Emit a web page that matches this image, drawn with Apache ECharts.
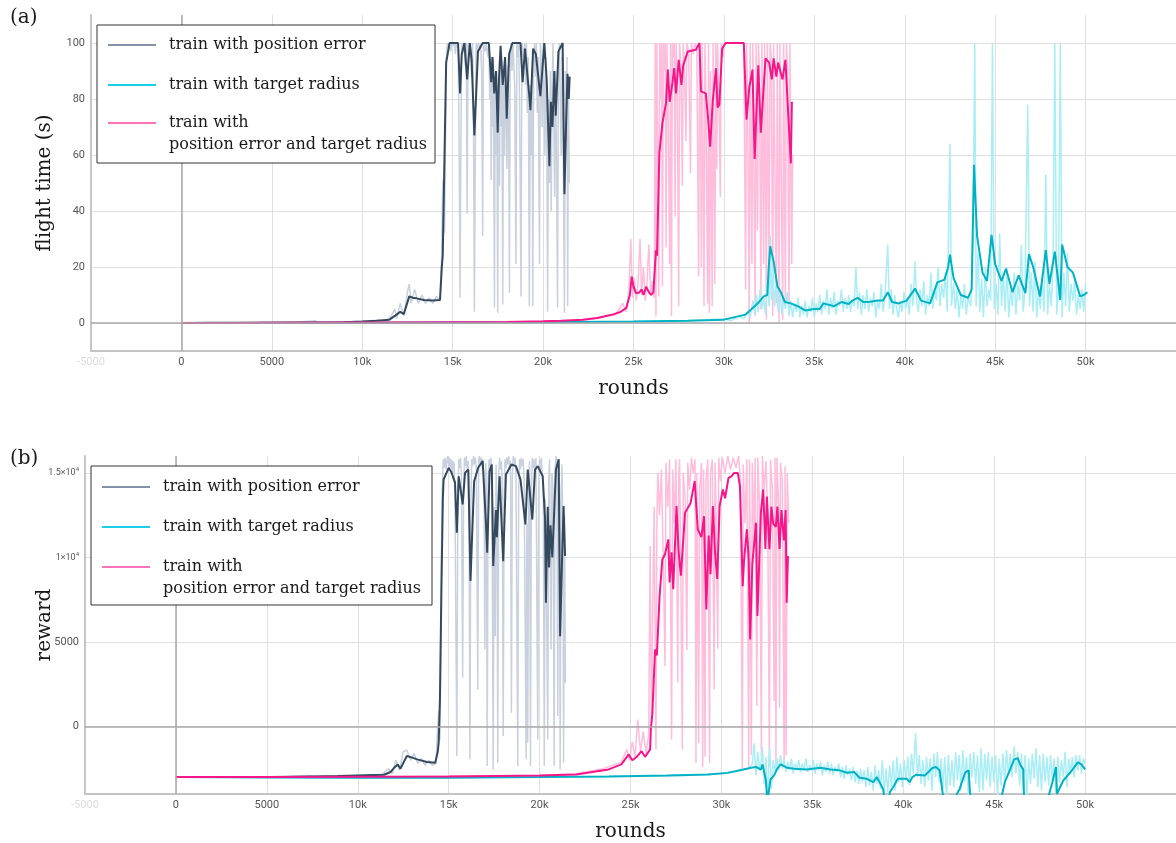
<!DOCTYPE html>
<html>
<head>
<meta charset="utf-8">
<title>flight time and reward</title>
<script src="https://cdn.jsdelivr.net/npm/echarts@6/dist/echarts.min.js"></script>
<style>
  html, body { margin: 0; padding: 0; background: #fff; }
  #chart { width: 1176px; height: 843px; }
</style>
</head>
<body>
<div id="chart"></div>
<script>
// x = training rounds
const flightTicks = [0, 20, 40, 60, 80, 100]
const rewardTicks = [0, 5000, 10000, 15000]
const legendNames = ['train with position error', 'train with target radius', 'train with\nposition error and target radius']

// (a) flight time (s)
const flightPosRaw = [[0,0],[1500,0.2],[3000,0],[4500,0.3],[6000,0.1],[7400,0.8],[7600,0.1],[9000,0.4],[10000,0.6],[10800,1],[11300,0.8],[11600,2.5],[11800,5],[11900,1.5],[12100,7],[12300,2.5],[12500,11],[12600,14],[12700,7],[12900,12],[13100,7],[13300,10],[13500,7],[13700,9],[13900,7],[14100,9.5],[14300,8],[14400,26],[14450,51],[14550,32],
  [14650,95],[14700,100],[14750,98],[14800,100],[14850,100],[14900,97],[14950,100],[15000,100],[15050,99],[15100,100],[15150,96],[15200,100],[15250,100],[15300,98],[15350,70],[15410,9],[15450,60],[15500,100],[15550,97],[15600,100],[15650,100],[15700,92],[15750,100],[15800,39],[15850,100],[15900,96],[15950,100],[16000,100],[16050,88],[16100,100],[16150,75],[16200,4],[16250,60],[16300,100],[16350,95],[16400,100],[16450,100],[16500,98],[16550,100],[16600,90],[16660,31],[16700,100],[16750,100],[16800,97],[16850,100],[16900,100],[16950,95],[17000,100],[17050,80],[17100,95],[17130,51],[17170,90],[17210,70],[17250,95],[17310,5.5],[17350,88],[17400,60],[17440,85],[17490,3.7],[17530,80],[17590,49],[17630,95],[17680,70],[17720,90],[17770,6.6],[17810,85],[17860,60],[17900,95],[17950,75],[18000,55],[18050,92],[18100,70],[18140,10.8],[18180,95],[18230,100],[18280,90],[18330,100],[18380,100],[18430,85],[18500,21],[18550,100],[18600,95],[18650,100],[18700,80],[18780,9.5],[18830,100],[18880,100],[18930,95],[18980,100],[19030,85],[19080,100],[19130,75],[19180,95],[19240,6],[19290,85],[19340,60],[19390,90],[19430,6],[19480,95],[19530,100],[19580,88],[19630,100],[19680,75],[19730,95],[19800,21],[19850,100],[19900,92],[19950,70],[20000,100],[20050,85],[20100,60],[20150,95],[20200,75],[20250,4],[20300,80],[20350,50],[20400,90],[20450,40],[20500,85],[20550,100],[20600,70],[20640,45],[20690,90],[20740,60],[20800,5.5],[20850,95],[20900,100],[20950,80],[21000,60],[21050,95],[21100,75],[21180,3.7],[21230,90],[21280,65],[21320,95],[21360,6],[21400,85],[21450,50]]
const flightPosSmooth = [[0,0],[2000,0.1],[4000,0.1],[6000,0.2],[8000,0.2],[9000,0.3],[10000,0.5],[10800,0.8],[11500,1.2],[11900,3],[12100,4],[12300,3.2],[12600,9.5],[12800,9],[13000,8.8],[13400,8.2],[13900,8],[14300,8.2],[14400,20],[14450,24],[14550,60],[14640,93],[14830,100],[15300,100],[15410,82],[15500,96],[15650,100],[15800,87],[15950,100],[16050,94],[16200,67],[16400,97],[16660,100],[17000,100],[17130,86],[17200,95],[17300,82],[17400,90],[17490,68],[17560,87],[17650,99],[17770,85],[17900,95],[17990,73],[18120,96],[18300,100],[18750,100],[18870,86],[19000,98],[19240,81],[19300,76],[19450,98],[19600,96],[19850,81],[20070,100],[20200,87],[20350,56],[20430,79],[20520,70],[20620,90],[20700,74],[20850,97],[21080,100],[21180,46],[21280,73],[21350,89],[21420,80],[21470,88]]
const flightRadRaw = [[0,0],[10000,0.1],[20000,0.3],[25000,0.5],[28000,0.8],[30000,1.5],[30400,0.8],[30800,2.5],[31100,1.5],[31300,4],[31450,2],[31600,8],[31700,3],[31800,10],[31900,4],[32000,12],[32100,5],[32200,9],[32300,3],[32400,15],[32500,6],[32560,31],[32620,8],[32700,20],[32800,6],[32900,16],[33000,4],[33100,12],[33200,3],[33300,9],[33400,5],[33500,11],[33600,3],[33700,8],[33800,2],[33900,7],[34000,4],[34100,9],[34200,2],[34300,6],[34400,3],[34500,8],[34600,2],[34700,6],[34800,4],[34900,9],[35000,2],[35100,7],[35200,4],[35300,10],[35400,3],[35500,8],[35600,5],[35700,12],[35800,3],[35900,9],[36000,5],[36100,11],[36200,3],[36300,8],[36400,6],[36500,12],[36600,4],[36700,9],[36800,5],[36900,10],[37000,4],[37100,8],[37200,6],[37300,20],[37400,5],[37500,11],[37600,3],[37700,10],[37800,5],[37900,12],[38000,4],[38100,9],[38200,6],[38300,11],[38400,2],[38500,8],[38600,5],[38700,14],[38800,4],[38900,9],[39060,28],[39150,5],[39250,12],[39350,3],[39450,10],[39550,5],[39650,2],[39750,8],[39850,4],[39950,11],[40050,5],[40150,9],[40250,3],[40350,14],[40450,6],[40570,22],[40650,8],[40750,4],[40850,12],[40950,6],[41050,15],[41150,3],[41250,10],[41350,6],[41450,18],[41550,5],[41650,12],[41750,8],[41850,20],[41950,6],[42050,14],[42150,9],[42250,18],[42350,4],[42500,64],[42580,6],[42700,14],[42800,5],[42900,12],[43000,2],[43100,10],[43200,5],[43300,14],[43400,3],[43500,9],[43650,6],[43780,30],[43870,100],[43950,6],[44050,25],[44150,4],[44250,16],[44350,2],[44450,20],[44550,6],[44650,12],[44750,8],[44850,100],[44950,5],[45050,14],[45150,3],[45250,32],[45350,6],[45450,18],[45550,4],[45650,20],[45750,2],[45850,12],[45950,6],[46050,18],[46150,3],[46250,14],[46350,8],[46450,28],[46550,4],[46650,12],[46800,78],[46900,6],[47000,18],[47100,4],[47200,22],[47300,2],[47400,12],[47500,5],[47600,16],[47700,4],[47800,53],[47900,3],[48000,14],[48100,6],[48200,20],[48300,100],[48400,3],[48500,12],[48600,100],[48700,2],[48800,18],[48900,6],[49000,25],[49100,4],[49200,14],[49300,8],[49400,15],[49500,3],[49600,10],[49700,5],[49800,12],[49900,4],[50000,14]]
const flightRadSmooth = [[0,0],[5000,0],[10000,0.1],[15000,0.2],[20000,0.3],[25000,0.5],[28000,0.8],[30000,1.2],[31200,3],[31700,6],[31900,7.2],[32200,9.5],[32400,10],[32480,20],[32560,27.4],[32750,22],[32960,13],[33150,11],[33370,7.5],[33700,7],[34080,6],[34500,4.5],[35000,5],[35300,5],[35500,7],[36100,6],[36500,7.5],[36900,6.8],[37100,8],[37400,9],[37700,7.5],[38100,7.6],[38500,8],[38800,8],[39060,11],[39300,7.5],[39670,7],[40100,8],[40570,12.3],[40900,8],[41400,7],[41800,14.5],[42200,15.5],[42400,20],[42500,24.4],[42700,16],[43100,10],[43500,9],[43700,12],[43830,56.5],[44000,31],[44300,18],[44550,15],[44800,31.5],[45000,21],[45350,15],[45600,19.4],[45960,11],[46300,17],[46670,10.7],[46870,24.6],[47100,20],[47480,9.5],[47800,26],[48000,14],[48300,25.5],[48600,8.2],[48700,28],[49000,20],[49300,18],[49700,9.5],[49900,10],[50100,11]]
const flightBothRaw = [[0,0],[4000,0.2],[8000,0.1],[12000,0.3],[16000,0.2],[20000,0.5],[22000,1],[23000,1.8],[23500,2.5],[24000,3],[24200,5],[24400,7],[24600,4],[24750,12],[24850,30],[24950,9],[25050,16],[25150,8],[25250,14],[25360,30],[25450,10],[25550,20],[25650,8],[25750,15],[25850,28],[25950,10],[26050,15],[26150,9],
  [26200,100],[26240,2.4],[26290,100],[26340,60],[26400,9.5],[26450,100],[26500,80],[26550,100],[26600,13],[26650,100],[26700,90],[26750,100],[26800,27],[26850,100],[26900,85],[27000,21],[27050,100],[27100,2.4],[27150,100],[27200,95],[27250,100],[27300,38],[27350,100],[27420,88],[27500,6],[27550,100],[27620,92],[27700,49],[27750,100],[27800,95],[27900,65],[27950,100],[28050,97],[28150,53.6],[28200,100],[28300,96],[28400,100],[28500,98],[28600,16.6],[28650,100],[28700,85],[28750,20],[28800,100],[28900,6],[28950,100],[29000,80],[29100,7],[29150,100],[29200,3.6],[29260,90],[29350,6],[29400,100],[29500,14],[29550,100],[29600,55],[29650,100],[29750,70],[29800,45],[29850,100],[29950,95],[30000,100],[30500,100],[31100,100],[31200,12],[31250,100],[31300,85],[31400,0],[31450,100],[31550,21],[31600,100],[31730,2.4],[31780,100],[31860,33],[31910,100],[31960,90],[32050,4.8],[32100,100],[32200,21],[32250,100],[32350,1.2],[32400,100],[32500,15.5],[32550,100],[32620,95],[32700,2.4],[32750,100],[32900,7],[32950,100],[33050,0],[33100,100],[33250,1.2],[33300,100],[33400,6],[33450,100],[33520,90],[33600,2.4],[33650,100],[33750,21],[33800,60]]
const flightBothSmooth = [[0,0],[3000,0],[6000,0.1],[9000,0.2],[12000,0.2],[15000,0.3],[18000,0.4],[20000,0.6],[21000,0.8],[22200,1.2],[23000,1.8],[23850,3],[24300,4],[24600,5.4],[24800,10],[24900,16.6],[25000,13],[25140,10.7],[25300,10.8],[25450,12],[25550,10],[25700,13],[25850,11],[25970,10],[26100,11],[26240,26],[26300,24],[26430,60.7],[26600,71.4],[26800,78.6],[26900,90.5],[27000,79],[27160,86],[27250,91],[27350,82],[27500,94],[27650,85],[27750,92],[28000,97],[28450,97.6],[28650,100],[28730,82.7],[29000,82],[29130,72.6],[29240,63],[29380,79],[29560,91],[29650,77],[29750,78],[29900,98],[30100,100],[31100,100],[31250,72.6],[31400,84],[31580,90.5],[31700,58.6],[31900,92],[32040,68],[32300,94.5],[32500,93],[32650,87],[32750,94.5],[32900,88],[33000,93],[33240,87],[33400,94],[33500,94],[33700,57],[33760,79]]

// (b) reward
const rewardPosRaw = [[0,-3000],[5000,-2980],[7400,-2900],[7600,-3000],[9000,-2950],[10500,-2880],[11300,-2850],[11700,-2500],[11900,-2800],[12100,-2000],[12300,-2600],[12500,-1500],[12700,-1400],[12900,-2000],[13100,-1600],[13300,-2200],[13500,-1900],[13700,-2300],[13900,-2000],[14100,-2300],[14300,-2200],[14380,-300],[14450,900],[14520,-800],
  [14600,10000],[14650,14000],[14700,15800],[14750,15300],[14800,15900],[14850,15200],[14900,15700],[14950,16000],[15000,15400],[15050,15900],[15100,15300],[15150,15800],[15200,15000],[15250,15700],[15300,15500],[15350,13000],[15450,-1755],[15500,12000],[15550,15800],[15600,15300],[15650,15900],[15700,15000],[15770,2880],[15820,14000],[15870,15900],[15920,15400],[15970,16000],[16020,15200],[16070,15700],[16120,12000],[16170,-1950],[16220,13000],[16270,15800],[16320,15400],[16370,16000],[16420,15500],[16470,15900],[16520,15200],[16600,2190],[16650,15800],[16700,16000],[16750,15500],[16800,15900],[16850,15300],[16900,15800],[16950,13000],[16990,4555],[17040,15600],[17080,13500],[17120,-2350],[17170,14500],[17220,15800],[17270,15000],[17320,15900],[17370,15400],[17450,-2545],[17500,13000],[17560,5340],[17610,15500],[17660,12500],[17700,-2150],[17750,14800],[17800,15900],[17850,15200],[17900,15700],[17950,14000],[18000,-575],[18050,13500],[18100,15800],[18150,15300],[18200,15900],[18250,15500],[18300,16000],[18350,15200],[18400,15700],[18450,810],[18500,14800],[18550,16000],[18600,15500],[18650,15900],[18700,15000],[18800,-2350],[18850,14000],[18900,15800],[18950,15200],[19000,15900],[19050,15400],[19100,15800],[19150,14500],[19260,-1950],[19300,12000],[19350,-970],[19400,14500],[19450,15700],[19500,-2350],[19550,14000],[19600,15900],[19650,15300],[19700,15800],[19750,14800],[19800,15900],[19900,-770],[19950,14000],[20000,15800],[20050,15200],[20100,15900],[20150,15000],[20200,14500],[20260,-2350],[20310,13500],[20360,10000],[20450,-770],[20500,14500],[20550,15800],[20630,4555],[20680,15000],[20740,14000],[20800,-2350],[20850,15200],[20900,16000],[20950,15500],[21000,610],[21050,15800],[21100,14000],[21130,-2545],[21180,13000],[21230,15500],[21280,12000],[21320,-2150],[21370,12500],[21420,2585]]
const rewardPosSmooth = [[0,-3000],[3000,-3000],[6000,-2990],[8900,-2940],[10000,-2900],[10900,-2870],[11450,-2860],[11800,-2700],[12000,-2450],[12200,-2250],[12350,-2500],[12700,-1750],[13000,-1850],[13270,-1950],[13800,-2110],[14260,-2150],[14400,-1500],[14450,-965],[14520,1600],[14600,8000],[14680,13500],[14720,14610],[15000,15300],[15150,15040],[15350,14420],[15450,11460],[15550,14800],[15770,13135],[15900,15000],[16080,15200],[16200,8600],[16400,14500],[16630,15320],[16870,15700],[17050,12050],[17120,10280],[17250,15100],[17370,15500],[17450,9485],[17600,12800],[17650,11200],[17800,14800],[18000,9780],[18150,14900],[18450,15500],[18700,15400],[18950,14600],[19220,11950],[19350,15200],[19600,12240],[19750,15200],[19900,15400],[20170,14800],[20300,12300],[20350,7320],[20450,13000],[20520,9400],[20600,11900],[20700,10000],[20900,15200],[21050,15800],[21130,5340],[21250,10500],[21320,13035],[21400,10080]]
const rewardRadRaw = [[0,-3000],[10000,-3030],[20000,-3000],[25000,-2950],[28000,-2900],[30000,-2800],[31000,-2600],[31500,-2500],[31700,-2200],[31800,-1000],[31900,-2900],[32000,-1500],[32100,-2600],[32200,-2000],[32250,-1200],[32350,-3400],[32450,-1800],[32530,-5000],[32600,-2000],[32650,-1300],[32750,-3700],[32850,-2000],[32950,-2700],[33050,-1900],[33150,-2600],[33250,-1700],[33350,-2500],[33450,-2000],[33550,-2700],[33650,-2100],[33750,-2600],[33850,-1900],[33950,-2800],[34050,-2200],[34150,-2600],[34250,-2000],[34350,-2700],[34450,-2200],[34550,-2600],[34650,-1900],[34750,-2700],[34850,-2300],[34950,-2600],[35050,-2000],[35150,-2800],[35250,-2200],[35350,-2600],[35450,-2100],[35550,-2900],[35650,-2300],[35750,-2700],[35850,-2100],[35950,-2800],[36050,-2200],[36150,-2900],[36250,-2400],[36350,-2700],[36450,-2200],[36550,-3000],[36650,-2400],[36750,-3100],[36850,-2300],[36950,-2900],[37050,-2500],[37150,-3200],[37250,-2400],[37350,-3300],[37450,-2600],[37550,-3400],[37650,-2500],[37750,-3300],[37850,-2600],[37950,-3600],[38050,-2400],[38150,-3500],[38250,-2700],[38350,-3800],[38450,-2300],[38550,-3400],[38650,-2600],[38750,-3700],[38850,-2000],[38950,-4100],[39050,-2500],[39150,-3900],[39250,-2300],[39350,-3600],[39450,-2000],[39550,-3800],[39650,-1800],[39750,-3300],[39850,-2200],[39950,-3600],[40050,-2000],[40150,-3200],[40250,-1800],[40350,-3500],[40450,-1600],[40550,-2800],[40680,-400],[40780,-3000],[40880,-1700],[40980,-3400],[41080,-2000],[41180,-3600],[41280,-1800],[41380,-3200],[41480,-1900],[41580,-3800],[41680,-1600],[41780,-3000],[41880,-1500],[41980,-3300],[42080,-1900],[42180,-3700],[42280,-1800],[42380,-4200],[42480,-1700],[42580,-3500],[42680,-2000],[42780,-3600],[42880,-1500],[42980,-3200],[43080,-1700],[43180,-3800],[43280,-1400],[43380,-3300],[43480,-1800],[43580,-4100],[43680,-1600],[43780,-3000],[43880,-1500],[43980,-3400],[44080,-1700],[44180,-3900],[44280,-1300],[44380,-3800],[44480,-1600],[44580,-3200],[44680,-1500],[44780,-3600],[44880,-1800],[44980,-3300],[45080,-1700],[45180,-4200],[45280,-1900],[45380,-3500],[45480,-1600],[45580,-3300],[45680,-1400],[45780,-2900],[45880,-1600],[45980,-3000],[46100,-1180],[46200,-2800],[46300,-1500],[46400,-3500],[46500,-1600],[46600,-3800],[46700,-1700],[46800,-4100],[46900,-1900],[47000,-3400],[47100,-1600],[47200,-3100],[47300,-1300],[47400,-3600],[47500,-1700],[47600,-3800],[47700,-1600],[47800,-3300],[47900,-1800],[48000,-3500],[48100,-1700],[48200,-3200],[48300,-1900],[48400,-4000],[48500,-1800],[48600,-3300],[48700,-2000],[48800,-3000],[48900,-1500],[49000,-3600],[49100,-1900],[49200,-2800],[49300,-1800],[49400,-3000],[49500,-1700],[49600,-2600],[49700,-1700],[49800,-2800],[49900,-1900],[50000,-2200]]
const rewardRadSmooth = [[0,-3000],[5000,-3020],[10000,-3040],[15000,-3040],[20000,-3000],[23800,-2960],[27000,-2900],[29260,-2840],[30350,-2750],[31080,-2580],[31630,-2450],[31900,-2400],[32170,-2550],[32260,-2250],[32440,-3140],[32530,-4500],[32600,-3900],[32700,-3140],[32900,-2900],[33070,-2500],[33260,-2250],[33620,-2450],[34000,-2500],[34700,-2550],[35440,-2450],[36000,-2545],[36500,-2600],[36900,-2740],[37300,-2700],[37600,-3040],[38000,-3100],[38350,-3300],[38550,-3000],[38700,-3300],[38900,-3730],[39000,-4600],[39200,-4600],[39260,-3900],[39500,-3500],[39700,-3100],[40200,-3100],[40350,-3300],[40500,-3000],[40700,-2860],[41200,-2900],[41600,-2460],[41800,-2400],[42000,-2600],[42200,-4200],[42500,-4800],[42900,-4100],[43100,-3700],[43400,-2740],[43600,-2600],[43700,-4500],[44000,-5200],[45200,-5200],[45400,-4200],[45600,-3250],[45800,-2750],[46100,-1950],[46300,-1880],[46450,-2300],[46600,-2545],[46650,-4500],[46800,-5200],[47900,-5200],[48000,-4100],[48200,-3300],[48400,-2400],[48450,-4000],[48500,-3900],[48800,-3200],[49200,-2700],[49600,-2130],[49800,-2250],[50000,-2545]]
const rewardBothRaw = [[0,-3000],[10000,-2980],[20000,-2900],[22000,-2800],[23500,-2500],[24500,-2100],[24800,-1360],[24950,-2000],[25100,-900],[25250,-1800],[25400,410],[25550,-1500],[25700,-300],[25850,-1600],[26000,-500],
  [26080,10670],[26150,-200],[26250,9000],[26300,13000],[26400,-1360],[26450,12000],[26500,15000],[26600,12500],[26700,15200],[26800,10000],[26900,3570],[26950,15600],[27050,13000],[27150,15800],[27260,-790],[27320,15200],[27400,12000],[27500,15800],[27600,2600],[27650,14800],[27700,15800],[27770,9000],[27850,-1360],[27900,15000],[28000,13500],[28100,4500],[28150,15600],[28250,14000],[28350,15900],[28450,15000],[28550,15800],[28600,-2170],[28650,15000],[28750,-1000],[28800,14000],[28900,15600],[28970,-2400],[29020,15200],[29100,-1800],[29150,14500],[29250,15800],[29350,-2170],[29400,15000],[29500,15800],[29600,2200],[29650,15600],[29700,13000],[29800,4600],[29850,15900],[29950,14500],[30050,15900],[30200,15000],[30350,16000],[30500,15200],[30650,15900],[30800,15300],[30950,16000],[31050,14500],[31150,-2500],[31200,15500],[31300,12000],[31400,15800],[31500,-2400],[31550,15800],[31650,-1700],[31700,15600],[31800,11000],[31850,15900],[31950,1200],[32000,15900],[32100,13000],[32200,-1800],[32250,16000],[32350,14000],[32450,15700],[32550,12000],[32640,-2400],[32700,15800],[32800,14000],[32900,1500],[32950,15900],[33000,-2450],[33050,15900],[33150,13000],[33200,1100],[33250,15600],[33350,14500],[33450,-2400],[33500,15400],[33560,-1700],[33620,15000],[33700,12000]]
const rewardBothSmooth = [[0,-3000],[5000,-3000],[10000,-2980],[15000,-2960],[20000,-2900],[22000,-2840],[23800,-2545],[24500,-2250],[24900,-1660],[25100,-2000],[25350,-1800],[25600,-1460],[25800,-1800],[26080,-1360],[26120,-100],[26200,700],[26350,4555],[26450,4200],[26600,7710],[26750,9880],[26900,10200],[27080,11065],[27150,8520],[27260,10300],[27350,8125],[27530,13035],[27650,10300],[27770,8915],[28000,12640],[28300,13200],[28530,14515],[28620,14400],[28700,11660],[28900,11200],[29040,12440],[29170,6920],[29300,11300],[29400,9000],[29530,13035],[29650,10300],[29770,8720],[29900,13035],[30080,14020],[30200,13500],[30390,14700],[30550,14800],[30700,15000],[30900,15000],[31020,14220],[31170,8300],[31250,9900],[31400,11660],[31500,9900],[31580,5150],[31700,9600],[31900,12050],[31980,6530],[32170,12640],[32300,14020],[32420,10500],[32500,13600],[32640,10480],[32750,13000],[32850,12000],[32990,11800],[33080,13000],[33200,10500],[33300,12800],[33440,11000],[33530,12800],[33590,7320],[33660,10080]]

const colors = {
  pos: { dark: '#34495e', light: '#c9d1de', key: '#8593a8' },
  rad: { dark: '#00b2c4', light: '#a9eef6', key: '#1ccfe6' },
  both: { dark: '#f7168a', light: '#ffbddb', key: '#ff73b9' }
}

const serif = '"DejaVu Serif", serif'

function line(data, gridIndex, color, width, z) {
  return {
    type: 'line',
    xAxisIndex: gridIndex,
    yAxisIndex: gridIndex,
    data: data,
    showSymbol: false,
    symbol: 'none',
    silent: true,
    z: z,
    lineStyle: { color: color, width: width }
  }
}

function zeroLines(series) {
  series.markLine = {
    silent: true,
    symbol: ['none', 'none'],
    label: { show: false },
    lineStyle: { color: '#a8a8a8', width: 1.5, type: 'solid' },
    data: [{ yAxis: 0 }, { xAxis: 0 }]
  }
  return series
}

function roundsLabel(v) {
  if (v >= 55000) return ''
  if (Math.abs(v) >= 10000) return v / 1000 + 'k'
  return String(v)
}

function xAxis(gridIndex) {
  return {
    type: 'value',
    gridIndex: gridIndex,
    min: -5000,
    max: 55000,
    interval: 5000,
    name: 'rounds',
    nameLocation: 'middle',
    nameGap: 28,
    nameMoveOverlap: false,
    nameTextStyle: { fontFamily: serif, fontSize: 20, color: '#1a1a1a' },
    axisLine: { show: true, onZero: false, lineStyle: { color: '#c4c4c4', width: 2 } },
    axisTick: { show: false },
    splitLine: { show: true, lineStyle: { color: '#e0e0e0', width: 1 } },
    axisLabel: {
      fontFamily: 'Roboto',
      fontSize: 11,
      margin: 6,
      showMaxLabel: false,
      color: v => (v < 0 ? '#dddddd' : '#555555'),
      formatter: roundsLabel
    }
  }
}

function yAxis(gridIndex, min, max, ticks, name, nameGap, formatter) {
  return {
    type: 'value',
    gridIndex: gridIndex,
    min: min,
    max: max,
    name: name,
    nameLocation: 'middle',
    nameRotate: 90,
    nameGap: nameGap,
    nameMoveOverlap: false,
    nameTextStyle: { fontFamily: serif, fontSize: 20, color: '#1a1a1a' },
    axisLine: { show: true, onZero: false, lineStyle: { color: '#c4c4c4', width: 2 } },
    axisTick: { show: false, customValues: ticks },
    splitLine: { show: true, lineStyle: { color: '#e0e0e0', width: 1 } },
    axisLabel: {
      customValues: ticks,
      fontFamily: 'Roboto',
      fontSize: 11,
      margin: 6,
      color: '#555555',
      formatter: formatter,
      rich: {
        m: { fontFamily: 'Roboto', fontSize: 9, color: '#555555' },
        s: { fontFamily: 'Roboto', fontSize: 6, color: '#555555', padding: [0, 0, 6, 0] }
      }
    }
  }
}

function rewardLabel(v) {
  if (v === 15000) return '{m|1.5×10}{s|4}'
  if (v === 10000) return '{m|1×10}{s|4}'
  return String(v)
}

function legendBox(x, y, w, h, rows) {
  const keys = [colors.pos.key, colors.rad.key, colors.both.key]
  const els = [{
    type: 'rect',
    shape: { x: x, y: y, width: w, height: h },
    style: { fill: '#ffffff', stroke: '#333333', lineWidth: 1 },
    z: 100
  }]
  rows.forEach((ry, i) => {
    els.push({
      type: 'line',
      shape: { x1: x + 11, y1: ry, x2: x + 59, y2: ry },
      style: { stroke: keys[i], lineWidth: 2 },
      z: 101
    })
    els.push({
      type: 'text',
      x: x + 72,
      y: ry - 11,
      style: {
        text: legendNames[i],
        font: '16px ' + serif,
        lineHeight: 22,
        fill: '#1a1a1a',
        align: 'left',
        verticalAlign: 'top'
      },
      z: 101
    })
  })
  return els
}

const chart = echarts.init(document.getElementById('chart'))

chart.setOption({
  animation: false,
  backgroundColor: '#ffffff',
  grid: [
    { left: 91, right: -1, top: 15, bottom: 492 },
    { left: 85, right: -9, top: 456, bottom: 48 }
  ],
  xAxis: [xAxis(0), xAxis(1)],
  yAxis: [
    yAxis(0, -10, 110, flightTicks, 'flight time (s)', 36, v => String(v)),
    yAxis(1, -4000, 16000, rewardTicks, 'reward', 30, rewardLabel)
  ],
  series: [
    zeroLines(line(flightPosRaw, 0, colors.pos.light, 1.5, 1)),
    line(flightBothRaw, 0, colors.both.light, 1.5, 1),
    line(flightRadRaw, 0, colors.rad.light, 1.5, 1),
    line(flightPosSmooth, 0, colors.pos.dark, 2, 2),
    line(flightRadSmooth, 0, colors.rad.dark, 2, 2),
    line(flightBothSmooth, 0, colors.both.dark, 2, 2),
    zeroLines(line(rewardPosRaw, 1, colors.pos.light, 1.5, 1)),
    line(rewardBothRaw, 1, colors.both.light, 1.5, 1),
    line(rewardRadRaw, 1, colors.rad.light, 1.5, 1),
    line(rewardPosSmooth, 1, colors.pos.dark, 2, 2),
    line(rewardRadSmooth, 1, colors.rad.dark, 2, 2),
    line(rewardBothSmooth, 1, colors.both.dark, 2, 2)
  ],
  graphic: [
    { type: 'text', x: 10, y: 8, style: { text: '(a)', font: '20px ' + serif, fill: '#1a1a1a' } },
    { type: 'text', x: 10, y: 449, style: { text: '(b)', font: '20px ' + serif, fill: '#1a1a1a' } }
  ].concat(legendBox(97, 25, 338, 138, [45, 85, 123]), legendBox(91, 466, 341, 139, [487, 527, 567]))
})
</script>
</body>
</html>
